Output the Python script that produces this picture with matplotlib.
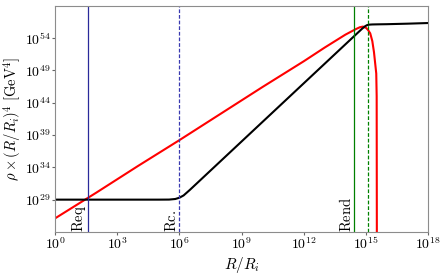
import numpy as np
import matplotlib
matplotlib.use("Agg")
import matplotlib.pyplot as plt
from matplotlib.ticker import FixedLocator, FuncFormatter, NullLocator

plt.rcParams['mathtext.fontset'] = 'cm'
plt.rcParams['font.family'] = 'serif'
plt.rcParams['font.serif'] = ['DejaVu Serif']

# log10(R/Ri), log10(rho*(R/Ri)^4)
black_logx = [0, 3, 5, 5.5, 5.8, 6.0, 6.2, 6.5, 7, 8, 9, 10, 11, 12, 13, 14,
              14.5, 14.8, 14.95, 15.05, 15.15, 15.3, 15.6, 16, 17, 18]
black_logy = [29.0, 29.0, 29.0, 29.01, 29.1, 29.3, 29.65, 30.5, 32.0, 35.0, 38.0,
              41.0, 44.0, 47.0, 50.0, 53.0, 54.5, 55.4, 55.8, 55.98, 56.05, 56.08,
              56.1, 56.12, 56.2, 56.3]

red_logx = [0, 2, 4, 6, 8, 10, 12, 13, 14, 14.5, 14.7, 14.85, 15.0, 15.1, 15.2,
            15.3, 15.38, 15.44, 15.49, 15.51, 15.52]
red_logy = [26.1, 30.1, 34.2, 38.2, 42.3, 46.4, 50.4, 52.5, 54.5, 55.35, 55.65,
            55.75, 55.55, 55.2, 54.7, 53.5, 51.8, 50.0, 48.5, 45.0, 20.0]

# marker radii (log10)
log_req = 1.58
log_rc = 6.0
log_rend = 14.43
log_rend2 = 15.08

xticks = [0, 3, 6, 9, 12, 15, 18]
yticks = [29, 34, 39, 44, 49, 54]

fig = plt.figure(figsize=(4.45, 2.78), dpi=100)
ax = fig.add_axes([0.1236, 0.1655, 0.8389, 0.8145])

ax.plot(10.0 ** np.array(red_logx), 10.0 ** np.array(red_logy), color='red', lw=1.5)
ax.plot(10.0 ** np.array(black_logx), 10.0 ** np.array(black_logy), color='black', lw=1.5)

ax.axvline(10 ** log_req, color='#2a2a9a', lw=0.9)
ax.axvline(10 ** log_rc, color='#3a3ab0', lw=0.9, ls='--', dashes=(3, 1.5))
ax.axvline(10 ** log_rend, color='green', lw=0.9)
ax.axvline(10 ** log_rend2, color='green', lw=0.9, ls='--', dashes=(3, 1.5))

ax.set_xscale('log')
ax.set_yscale('log')
ax.set_xlim(1e0, 1e18)
ax.set_ylim(1e24, 1e59)

ax.xaxis.set_major_locator(FixedLocator([10.0 ** t for t in xticks]))
ax.yaxis.set_major_locator(FixedLocator([10.0 ** t for t in yticks]))
ax.xaxis.set_minor_locator(NullLocator())
ax.yaxis.set_minor_locator(NullLocator())
fmt = FuncFormatter(lambda v, p: r'$10^{%d}$' % int(round(np.log10(v))))
ax.xaxis.set_major_formatter(fmt)
ax.yaxis.set_major_formatter(fmt)
ax.tick_params(labelsize=10, length=2, color='0.4', pad=1)

for lx, name in [(log_req, 'Req'), (log_rc, 'Rc.'), (log_rend, 'Rend')]:
    ax.text(10 ** lx, 1.1e24, r'$\mathrm{%s}$' % name, rotation=90,
            ha='right', va='bottom', fontsize=10.5)

for s in ax.spines.values():
    s.set_color('0.55')

ax.set_xlabel(r'$R/R_i$', fontsize=11)
ax.set_ylabel(r'$\rho \times (R/R_i)^4\ [\mathrm{GeV}^4]$', fontsize=10.5)
ax.xaxis.set_label_coords(0.5, -0.1)
ax.yaxis.set_label_coords(-0.085, 0.5)

plt.savefig('out.png', dpi=100)
